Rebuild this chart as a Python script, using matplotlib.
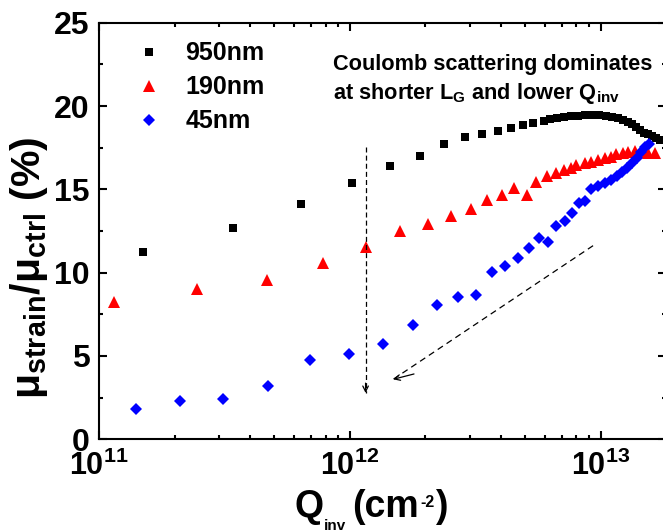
import matplotlib
matplotlib.use("Agg")
import matplotlib.pyplot as plt
from matplotlib import font_manager
from matplotlib.ticker import FixedLocator, LogLocator, MultipleLocator, NullFormatter, FixedFormatter

# ---------------- data ----------------
q_950 = [1.50e11, 3.42e11, 6.38e11, 1.02e12, 1.44e12, 1.90e12, 2.38e12, 2.87e12, 3.37e12,
         3.89e12, 4.37e12, 4.88e12, 5.37e12, 5.93e12, 6.27e12, 6.68e12, 7.12e12, 7.60e12,
         8.10e12, 8.64e12, 9.21e12, 9.82e12, 1.047e13, 1.106e13, 1.169e13, 1.224e13,
         1.281e13, 1.329e13, 1.379e13, 1.430e13, 1.484e13, 1.539e13, 1.597e13, 1.656e13, 1.718e13]
r_950 = [11.24, 12.70, 14.14, 15.40, 16.39, 16.99, 17.71, 18.13, 18.31,
         18.51, 18.70, 18.87, 19.00, 19.12, 19.20, 19.29, 19.35, 19.39,
         19.42, 19.45, 19.45, 19.44, 19.41, 19.35, 19.27, 19.17,
         19.05, 18.90, 18.72, 18.54, 18.39, 18.30, 18.18, 18.06, 17.94]

q_190 = [1.15e11, 2.46e11, 4.68e11, 7.81e11, 1.158e12, 1.586e12, 2.04e12, 2.54e12, 3.03e12,
         3.52e12, 4.03e12, 4.53e12, 5.06e12, 5.54e12, 6.08e12, 6.62e12, 7.12e12, 7.64e12,
         8.00e12, 8.64e12, 9.18e12, 9.75e12, 1.037e13, 1.103e13, 1.155e13, 1.227e13,
         1.285e13, 1.366e13, 1.453e13, 1.543e13, 1.641e13]
r_190 = [8.22, 9.04, 9.58, 10.56, 11.56, 12.50, 12.92, 13.42, 13.84,
         14.35, 14.68, 15.07, 14.65, 15.46, 15.80, 16.00, 16.16, 16.30,
         16.46, 16.60, 16.66, 16.76, 16.87, 16.96, 17.11, 17.17,
         17.26, 17.32, 17.23, 17.17, 17.20]

q_45 = [1.40e11, 2.10e11, 3.13e11, 4.70e11, 6.95e11, 9.95e11, 1.357e12, 1.778e12, 2.215e12,
        2.70e12, 3.17e12, 3.67e12, 4.17e12, 4.66e12, 5.17e12, 5.66e12, 6.17e12, 6.66e12,
        7.19e12, 7.69e12, 8.17e12, 8.69e12, 9.18e12, 9.75e12, 1.037e13, 1.103e13, 1.158e13,
        1.212e13, 1.269e13, 1.329e13, 1.391e13, 1.443e13, 1.497e13, 1.554e13]
r_45 = [1.80, 2.30, 2.44, 3.22, 4.76, 5.12, 5.70, 6.84, 8.06,
        8.56, 8.66, 10.04, 10.38, 10.86, 11.46, 12.06, 11.86, 12.80,
        13.10, 13.60, 14.17, 14.30, 15.01, 15.20, 15.40, 15.56, 15.80,
        16.04, 16.31, 16.61, 16.91, 17.24, 17.54, 17.75]

labels = ["950nm", "190nm", "45nm"]
x_ticks = [1e11, 1e12, 1e13]
x_ticklabels = [r"$10^{11}$", r"$10^{12}$", r"$10^{13}$"]
y_ticks = [0, 5, 10, 15, 20, 25]

# ---------------- fonts ----------------
BASE = "Liberation Sans"
plt.rcParams["font.family"] = [BASE, "DejaVu Sans"]
plt.rcParams["font.weight"] = "bold"
plt.rcParams["mathtext.fontset"] = "custom"
plt.rcParams["mathtext.rm"] = BASE + ":bold"
plt.rcParams["mathtext.bf"] = BASE + ":bold"
plt.rcParams["mathtext.it"] = BASE + ":bold"
plt.rcParams["mathtext.sf"] = BASE + ":bold"
plt.rcParams["mathtext.default"] = "regular"

# ---------------- figure ----------------
W, H = 663, 532
fig = plt.figure(figsize=(W / 100, H / 100), dpi=100)
ax = fig.add_axes([99 / W, (H - 439.3) / H, (666 - 99) / W, (439.3 - 22.7) / H])

ax.plot(q_950, r_950, linestyle="none", marker="s", ms=6.2, mew=0, color="black", label=labels[0])
ax.plot(q_190, r_190, linestyle="none", marker="^", ms=8.2, mew=0, color="#ff0000", label=labels[1])
ax.plot(q_45, r_45, linestyle="none", marker="D", ms=5.7, mew=0, color="#0000ff", label=labels[2])

ax.set_xscale("log")
ax.set_xlim(1e11, 1.82e13)
ax.set_ylim(0, 25)

ax.xaxis.set_major_locator(FixedLocator(x_ticks))
ax.xaxis.set_major_formatter(FixedFormatter(x_ticklabels))
ax.xaxis.set_minor_locator(LogLocator(base=10, subs=range(2, 10)))
ax.xaxis.set_minor_formatter(NullFormatter())
ax.yaxis.set_major_locator(FixedLocator(y_ticks))
ax.yaxis.set_minor_locator(MultipleLocator(2.5))

ax.tick_params(which="both", direction="in", top=True, right=True, width=1.5)
ax.tick_params(which="major", length=6)
ax.tick_params(which="minor", length=3)
ax.tick_params(axis="y", which="major", labelsize=23, pad=7)
ax.tick_params(axis="x", which="major", labelsize=22, pad=8)
for s in ax.spines.values():
    s.set_linewidth(1.5)

# x label built from pieces (large Q and (cm), small sub/superscripts)
def px(x, y):
    return x / W, (H - y) / H

xl_parts = [("Q", 295, 517, 27), ("inv", 324, 530, 11), ("(cm", 352, 517, 27),
            ("-2", 420, 507, 11.5), (")", 435, 517, 27)]
for s, x, y, fs in xl_parts:
    fig.text(*px(x, y), s, fontsize=fs, fontweight="bold", ha="left", va="baseline")

fig.text(29 / W, (H - 268) / H, r"$\mu_{strain}/\mu_{ctrl}$ (%)", fontsize=29.5, fontweight="bold",
         rotation=90, ha="center", va="center")

# legend
leg = ax.legend(loc="upper left", bbox_to_anchor=((136 - 99) / (666 - 99), 1 - (41.5 - 22.7) / 416.6),
                frameon=False, borderpad=0, borderaxespad=0, handlelength=1.0,
                handletextpad=0.97, labelspacing=0.40,
                prop=font_manager.FontProperties(family=BASE, weight="bold", size=18))

# annotation text
ann_size = 15.7
ax.text((333 - 99) / (666 - 99), 1 - (70 - 22.7) / 416.6, "Coulomb scattering dominates",
        transform=ax.transAxes, fontweight="bold", fontsize=ann_size, ha="left", va="baseline")
ax.text((333 - 99) / (666 - 99), 1 - (99 - 22.7) / 416.6,
        r"at shorter L$_{G}$ and lower Q$_{inv}$",
        transform=ax.transAxes, fontweight="bold", fontsize=ann_size, ha="left", va="baseline")

# dashed arrows
arrow_v_start, arrow_v_end = (1.155e12, 17.56), (1.155e12, 2.78)
arrow_d_start, arrow_d_end = (9.32e12, 11.62), (1.488e12, 3.60)
for (x0, y0), (x1, y1), dash in [(arrow_v_start, arrow_v_end, (4, 2.5)),
                                 (arrow_d_start, arrow_d_end, (5, 3.5))]:
    ax.plot([x0, x1], [y0, y1], color="black", lw=0.9, dashes=dash)
    ax.annotate("", xy=(x1, y1), xytext=(x1 + (x0 - x1) * 0.04, y1 + (y0 - y1) * 0.04),
                arrowprops=dict(arrowstyle="->", lw=0.9, color="black",
                                mutation_scale=10, shrinkA=0, shrinkB=0))

fig.savefig("out.png", dpi=100)
